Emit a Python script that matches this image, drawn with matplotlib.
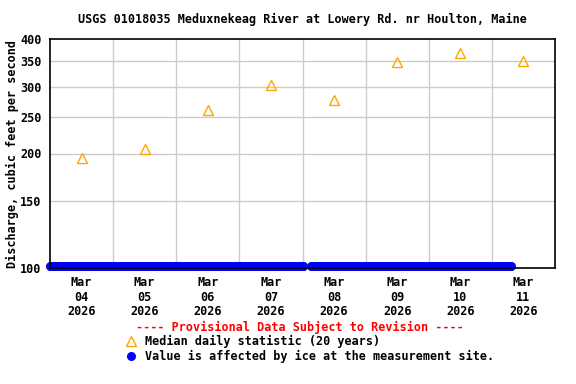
import numpy as np
import pandas as pd
import matplotlib
matplotlib.use("Agg")
import matplotlib.pyplot as plt
from matplotlib.ticker import FixedLocator, NullLocator

# median daily statistic (20 years), plotted at noon
median_days = pd.to_datetime(["2026-03-04 12:00", "2026-03-05 12:00", "2026-03-06 12:00",
                              "2026-03-07 12:00", "2026-03-08 12:00", "2026-03-09 12:00",
                              "2026-03-10 12:00", "2026-03-11 12:00"])
median_cfs = [195, 205, 260, 303, 277, 348, 367, 350]

# ice-affected readings, 15 minute values, with a short gap early on Mar 08
ice_part1 = pd.date_range("2026-03-04 00:00", "2026-03-08 00:15", freq="15min")
ice_part2 = pd.date_range("2026-03-08 03:15", "2026-03-11 07:15", freq="15min")
ice_level = 101
ice_cfs1 = np.full(len(ice_part1), ice_level)
ice_cfs2 = np.full(len(ice_part2), ice_level)

yticks = [100, 150, 200, 250, 300, 350, 400]
font = "DejaVu Sans Mono"

fig = plt.figure(figsize=(5.76, 3.84), dpi=100)
ax = fig.add_axes([50/576, 1-268/384, 505/576, 229/384])

ax.set_yscale("log")
ax.set_ylim(100, 400)
ax.set_xlim(pd.Timestamp("2026-03-04 00:00"), pd.Timestamp("2026-03-12 00:00"))

ax.yaxis.set_major_locator(FixedLocator(yticks))
ax.yaxis.set_minor_locator(NullLocator())
ax.set_yticklabels([str(v) for v in yticks], fontfamily=font, fontweight="bold", fontsize=8.5)

# gridlines at midnight, labels at noon
grid_days = pd.date_range("2026-03-05", "2026-03-11", freq="D")
for d in grid_days:
    ax.axvline(d, color="#cccccc", lw=1, zorder=0)
for v in yticks[1:-1]:
    ax.axhline(v, color="#cccccc", lw=1, zorder=0)

ax.set_xticks(median_days)
ax.set_xticklabels([d.strftime("%b\n%d\n%Y") for d in median_days],
                   fontfamily=font, fontweight="bold", fontsize=8.5, linespacing=1.15)
ax.tick_params(length=0, pad=6)

ax.plot(ice_part1, ice_cfs1, "o", color="#0000ff", ms=5.5, mec="#0000ff", clip_on=False, zorder=3)
ax.plot(ice_part2, ice_cfs2, "o", color="#0000ff", ms=5.5, mec="#0000ff", clip_on=False, zorder=3)
ax.plot(median_days, median_cfs, "^", mfc="none", mec="#ffa500", ms=7.5, mew=1, clip_on=False, zorder=4)

for s in ax.spines.values():
    s.set_color("black")
    s.set_linewidth(1.2)
    s.set_zorder(5)

ax.set_ylabel("Discharge, cubic feet per second", fontfamily=font, fontweight="bold", fontsize=8.5)
ax.yaxis.set_label_coords(-0.062, 0.5)

fig.text(0.525, 1-19/384, "USGS 01018035 Meduxnekeag River at Lowery Rd. nr Houlton, Maine",
         ha="center", va="center", fontfamily=font, fontweight="bold", fontsize=8.5)
fig.text(300/576, 1-327/384, "---- Provisional Data Subject to Revision ----",
         ha="center", va="center", color="red", fontfamily=font, fontweight="bold", fontsize=8.5)

fig.lines.append(plt.Line2D([131/576], [1-341/384], marker="^", mfc="none", mec="#ffa500",
                            ms=7.5, transform=fig.transFigure))
fig.lines.append(plt.Line2D([131/576], [1-356/384], marker="o", color="#0000ff",
                            ms=5.5, transform=fig.transFigure))
fig.text(145/576, 1-341/384, "Median daily statistic (20 years)", va="center",
         fontfamily=font, fontweight="bold", fontsize=8.5)
fig.text(145/576, 1-356/384, "Value is affected by ice at the measurement site.", va="center",
         fontfamily=font, fontweight="bold", fontsize=8.5)

fig.savefig("out.png", dpi=100)
